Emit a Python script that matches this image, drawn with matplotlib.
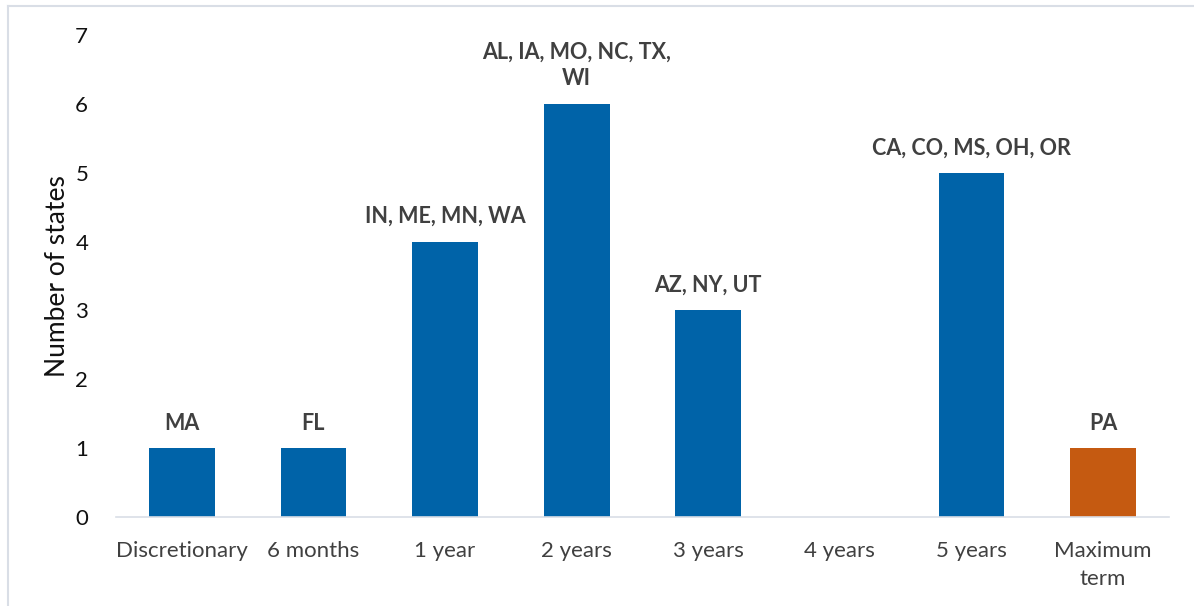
import matplotlib
matplotlib.use("Agg")
import matplotlib.pyplot as plt
from matplotlib.lines import Line2D

categories = ["Discretionary", "6 months", "1 year", "2 years", "3 years",
              "4 years", "5 years", "Maximum\nterm"]
counts = [1, 1, 4, 6, 3, 0, 5, 1]
state_labels = ["MA", "FL", "IN, ME, MN, WA", "AL, IA, MO, NC, TX,\nWI",
                "AZ, NY, UT", "", "CA, CO, MS, OH, OR", "PA"]

blue = "#0063A8"
orange = "#C55A11"
colors = [blue] * 7 + [orange]

plt.rcParams["font.family"] = ["Lato", "DejaVu Sans"]

W, H = 1194, 606
fig = plt.figure(figsize=(W / 100, H / 100), dpi=100)
ax = fig.add_axes([116 / W, 1 - 517 / H, (1169 - 116) / W, (517 - 35) / H])

x = range(len(categories))
bars = ax.bar(x, counts, width=0.5, color=colors)

for i, (c, lab) in enumerate(zip(counts, state_labels)):
    if lab:
        ax.text(i, c + 0.21, lab, ha="center", va="bottom", fontsize=15.5,
                fontweight="bold", color="#404040", linespacing=1.35)

ax.set_xlim(-0.5, len(categories) - 0.5)
ax.set_ylim(0, 7)
ax.set_yticks(range(8))
ax.set_xticks(list(x))
ax.set_xticklabels(categories, fontsize=16, color="#404040", linespacing=1.55)
ax.tick_params(axis="y", labelsize=16, length=0, pad=20, labelcolor="#111111")
ax.tick_params(axis="x", length=0, pad=17)
for s in ["top", "right", "left"]:
    ax.spines[s].set_visible(False)
ax.spines["bottom"].set_color("#D9DEE6")
ax.spines["bottom"].set_linewidth(1.2)
ax.set_ylabel("Number of states", fontsize=19, color="#111111", labelpad=4)

# light frame at top and left
fig.add_artist(Line2D([8 / W, 1], [1 - 6 / H, 1 - 6 / H], color="#D9DEE6", lw=1.5))
fig.add_artist(Line2D([8 / W, 8 / W], [0, 1 - 6 / H], color="#D9DEE6", lw=1.5))

fig.savefig("out.png", dpi=100)
